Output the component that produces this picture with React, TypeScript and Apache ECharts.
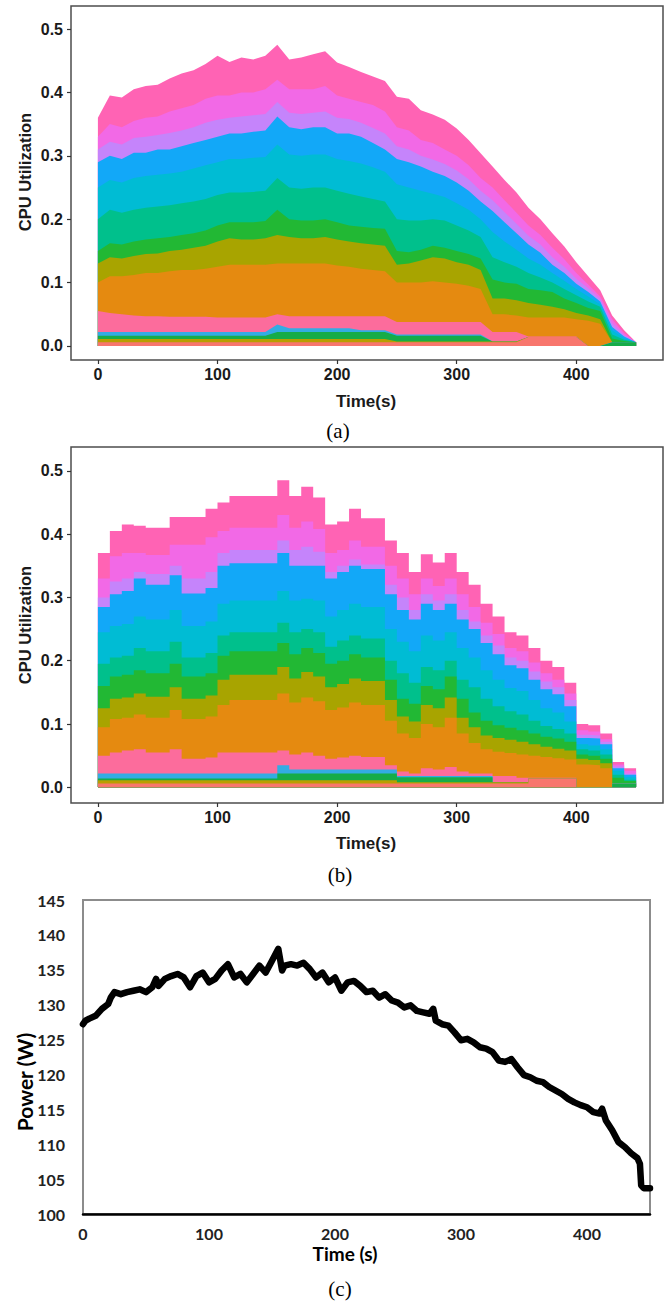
import React, { useEffect, useRef } from "react";
import * as echarts from "echarts";

// ---------- time grid (s) ----------
const T = [
  0, 10, 20, 30, 40, 50, 60, 70, 80, 90,
  100, 110, 120, 130, 140, 150, 160, 170, 180, 190,
  200, 210, 220, 230, 240, 250, 260, 270, 280, 290,
  300, 310, 320, 330, 340, 350, 360, 370, 380, 390,
  400, 410, 420, 430, 440, 450,
];

// ---------- panel (a): cumulative CPU utilization boundaries (upper edge of each colour band) ----------
const aTop = [
  0.36, 0.395, 0.392, 0.405, 0.41, 0.412, 0.422, 0.43, 0.435, 0.445,
  0.458, 0.448, 0.455, 0.452, 0.458, 0.475, 0.452, 0.455, 0.46, 0.465,
  0.447, 0.44, 0.432, 0.425, 0.418, 0.393, 0.39, 0.372, 0.365, 0.357,
  0.343, 0.325, 0.304, 0.283, 0.262, 0.242, 0.218, 0.2, 0.178, 0.157,
  0.132, 0.11, 0.088, 0.048, 0.025, 0.006,
];
const aMagenta = [
  0.33, 0.35, 0.345, 0.355, 0.36, 0.362, 0.37, 0.375, 0.38, 0.39,
  0.395, 0.395, 0.4, 0.4, 0.405, 0.42, 0.405, 0.405, 0.405, 0.41,
  0.395, 0.39, 0.385, 0.38, 0.37, 0.345, 0.34, 0.325, 0.32, 0.31,
  0.3, 0.285, 0.265, 0.25, 0.23, 0.21, 0.19, 0.175, 0.155, 0.137,
  0.115, 0.097, 0.078, 0.042, 0.02, 0.006,
];
const aViolet = [
  0.31, 0.322, 0.318, 0.328, 0.33, 0.333, 0.336, 0.34, 0.345, 0.352,
  0.357, 0.36, 0.362, 0.364, 0.366, 0.385, 0.368, 0.366, 0.368, 0.37,
  0.36, 0.358, 0.352, 0.344, 0.335, 0.315, 0.31, 0.3, 0.294, 0.287,
  0.277, 0.263, 0.245, 0.23, 0.211, 0.193, 0.174, 0.16, 0.14, 0.125,
  0.106, 0.091, 0.074, 0.036, 0.017, 0.006,
];
const aBlue = [
  0.29, 0.3, 0.295, 0.305, 0.305, 0.31, 0.31, 0.315, 0.32, 0.325,
  0.33, 0.335, 0.335, 0.338, 0.34, 0.362, 0.345, 0.342, 0.345, 0.345,
  0.335, 0.335, 0.33, 0.32, 0.31, 0.295, 0.29, 0.283, 0.275, 0.268,
  0.258, 0.245, 0.228, 0.213, 0.195, 0.178, 0.16, 0.147, 0.128, 0.115,
  0.098, 0.085, 0.07, 0.03, 0.015, 0.006,
];
const aCyan = [
  0.25, 0.262, 0.258, 0.265, 0.268, 0.27, 0.272, 0.275, 0.28, 0.285,
  0.29, 0.295, 0.295, 0.297, 0.298, 0.318, 0.302, 0.3, 0.302, 0.302,
  0.295, 0.292, 0.288, 0.282, 0.275, 0.255, 0.25, 0.245, 0.24, 0.235,
  0.225, 0.215, 0.2, 0.18, 0.165, 0.152, 0.138, 0.128, 0.115, 0.103,
  0.09, 0.078, 0.066, 0.025, 0.012, 0.006,
];
const aTeal = [
  0.2, 0.215, 0.21, 0.215, 0.218, 0.22, 0.222, 0.225, 0.228, 0.232,
  0.238, 0.242, 0.242, 0.243, 0.245, 0.265, 0.25, 0.248, 0.25, 0.25,
  0.245, 0.24, 0.236, 0.232, 0.228, 0.2, 0.198, 0.198, 0.2, 0.198,
  0.19, 0.182, 0.172, 0.14, 0.132, 0.125, 0.115, 0.108, 0.1, 0.09,
  0.08, 0.07, 0.062, 0.018, 0.01, 0.006,
];
const aGreen = [
  0.15, 0.162, 0.16, 0.165, 0.168, 0.17, 0.172, 0.175, 0.178, 0.182,
  0.19, 0.195, 0.195, 0.195, 0.197, 0.215, 0.2, 0.198, 0.198, 0.2,
  0.195, 0.19, 0.188, 0.186, 0.185, 0.15, 0.148, 0.152, 0.158, 0.155,
  0.15, 0.145, 0.138, 0.105, 0.1, 0.098, 0.09, 0.088, 0.085, 0.075,
  0.068, 0.06, 0.055, 0.012, 0.008, 0.006,
];
const aGold = [
  0.13, 0.14, 0.138, 0.142, 0.145, 0.146, 0.15, 0.152, 0.155, 0.158,
  0.165, 0.17, 0.168, 0.168, 0.17, 0.175, 0.172, 0.17, 0.17, 0.172,
  0.168, 0.165, 0.162, 0.16, 0.158, 0.128, 0.13, 0.135, 0.14, 0.138,
  0.132, 0.128, 0.12, 0.075, 0.075, 0.072, 0.068, 0.065, 0.062, 0.058,
  0.052, 0.048, 0.042, 0.006, 0.006, 0.006,
];
const aOrange = [
  0.1, 0.11, 0.11, 0.112, 0.115, 0.115, 0.118, 0.12, 0.12, 0.122,
  0.125, 0.128, 0.128, 0.128, 0.128, 0.13, 0.13, 0.13, 0.13, 0.13,
  0.127, 0.125, 0.122, 0.12, 0.118, 0.1, 0.1, 0.1, 0.102, 0.1,
  0.098, 0.095, 0.09, 0.05, 0.05, 0.048, 0.045, 0.045, 0.045, 0.045,
  0.042, 0.04, 0.035, 0.006, 0.006, 0.006,
];
const aPinkLow = [
  0.055, 0.052, 0.05, 0.048, 0.047, 0.047, 0.046, 0.046, 0.046, 0.046,
  0.045, 0.045, 0.045, 0.045, 0.045, 0.05, 0.047, 0.047, 0.047, 0.047,
  0.047, 0.047, 0.047, 0.047, 0.047, 0.038, 0.038, 0.038, 0.038, 0.038,
  0.038, 0.038, 0.038, 0.022, 0.022, 0.022, 0.015, 0.015, 0.015, 0.015,
  0.015, 0, 0, 0.006, 0.006, 0.006,
];
const aBlueThin = [
  0.022, 0.022, 0.022, 0.022, 0.022, 0.022, 0.022, 0.022, 0.022, 0.022,
  0.022, 0.022, 0.022, 0.022, 0.022, 0.034, 0.028, 0.028, 0.028, 0.028,
  0.028, 0.028, 0.025, 0.025, 0.025, 0.018, 0.018, 0.018, 0.018, 0.018,
  0.018, 0.018, 0.018, 0.007, 0.007, 0.007, 0.014, 0.014, 0.014, 0.014,
  0.014, 0, 0, 0.006, 0.006, 0.006,
];
const aGreenThin = [
  0.016, 0.016, 0.016, 0.016, 0.016, 0.016, 0.016, 0.016, 0.016, 0.016,
  0.016, 0.016, 0.016, 0.016, 0.016, 0.022, 0.022, 0.022, 0.022, 0.022,
  0.022, 0.022, 0.022, 0.022, 0.022, 0.016, 0.016, 0.016, 0.016, 0.016,
  0.016, 0.016, 0.016, 0.007, 0.007, 0.007, 0.014, 0.014, 0.014, 0.014,
  0.014, 0, 0, 0.006, 0.006, 0.006,
];
const aOlive = [
  0.011, 0.011, 0.011, 0.011, 0.011, 0.011, 0.011, 0.011, 0.011, 0.011,
  0.011, 0.011, 0.011, 0.011, 0.011, 0.011, 0.011, 0.011, 0.011, 0.011,
  0.011, 0.011, 0.011, 0.011, 0.011, 0.007, 0.007, 0.007, 0.007, 0.007,
  0.007, 0.007, 0.007, 0.007, 0.007, 0.007, 0.014, 0.014, 0.014, 0.014,
  0.014, 0, 0, 0, 0, 0,
];
const aSalmon = [
  0.006, 0.006, 0.006, 0.006, 0.006, 0.006, 0.006, 0.006, 0.006, 0.006,
  0.006, 0.006, 0.006, 0.006, 0.006, 0.006, 0.006, 0.006, 0.006, 0.006,
  0.006, 0.006, 0.006, 0.006, 0.006, 0.006, 0.006, 0.006, 0.006, 0.006,
  0.006, 0.006, 0.006, 0.006, 0.006, 0.006, 0.014, 0.014, 0.014, 0.014,
  0.014, 0, 0, 0, 0, 0,
];

// ---------- panel (b): same layers, step-wise sampling ----------
const bTop = [
  0.37, 0.405, 0.415, 0.413, 0.41, 0.41, 0.427, 0.427, 0.427, 0.44,
  0.45, 0.46, 0.46, 0.46, 0.46, 0.485, 0.46, 0.475, 0.458, 0.415,
  0.42, 0.44, 0.425, 0.425, 0.39, 0.37, 0.34, 0.368, 0.355, 0.37,
  0.34, 0.32, 0.29, 0.27, 0.245, 0.24, 0.22, 0.2, 0.19, 0.165,
  0.1, 0.098, 0.085, 0.04, 0.03, 0.006,
];
const bMagenta = [
  0.33, 0.365, 0.37, 0.37, 0.367, 0.367, 0.383, 0.383, 0.383, 0.395,
  0.405, 0.41, 0.41, 0.41, 0.41, 0.43, 0.41, 0.42, 0.408, 0.37,
  0.375, 0.39, 0.38, 0.38, 0.35, 0.33, 0.305, 0.33, 0.318, 0.33,
  0.305, 0.285, 0.26, 0.242, 0.22, 0.215, 0.197, 0.18, 0.17, 0.148,
  0.09, 0.088, 0.076, 0.036, 0.026, 0.006,
];
const bViolet = [
  0.3, 0.325, 0.33, 0.34, 0.337, 0.337, 0.35, 0.33, 0.33, 0.34,
  0.37, 0.375, 0.375, 0.375, 0.375, 0.39, 0.375, 0.38, 0.372, 0.34,
  0.35, 0.36, 0.352, 0.352, 0.32, 0.3, 0.28, 0.305, 0.295, 0.305,
  0.28, 0.262, 0.24, 0.224, 0.205, 0.2, 0.183, 0.167, 0.158, 0.138,
  0.083, 0.082, 0.072, 0.033, 0.022, 0.006,
];
const bBlue = [
  0.285, 0.305, 0.31, 0.33, 0.32, 0.32, 0.335, 0.306, 0.306, 0.315,
  0.35, 0.354, 0.354, 0.354, 0.354, 0.37, 0.35, 0.35, 0.35, 0.33,
  0.34, 0.35, 0.345, 0.345, 0.305, 0.28, 0.265, 0.29, 0.28, 0.29,
  0.265, 0.25, 0.228, 0.21, 0.193, 0.188, 0.17, 0.155, 0.147, 0.128,
  0.078, 0.077, 0.068, 0.03, 0.02, 0.006,
];
const bCyan = [
  0.245, 0.255, 0.258, 0.27, 0.265, 0.265, 0.28, 0.255, 0.255, 0.262,
  0.29, 0.295, 0.295, 0.295, 0.295, 0.31, 0.295, 0.298, 0.295, 0.27,
  0.28, 0.29, 0.285, 0.285, 0.25, 0.23, 0.215, 0.24, 0.232, 0.245,
  0.22, 0.205, 0.185, 0.17, 0.157, 0.152, 0.138, 0.125, 0.118, 0.104,
  0.068, 0.066, 0.06, 0.026, 0.016, 0.006,
];
const bTeal = [
  0.195, 0.205, 0.208, 0.22, 0.215, 0.215, 0.23, 0.205, 0.205, 0.212,
  0.24, 0.245, 0.245, 0.245, 0.245, 0.26, 0.245, 0.25, 0.245, 0.222,
  0.232, 0.24, 0.235, 0.235, 0.2, 0.18, 0.165, 0.19, 0.185, 0.2,
  0.17, 0.158, 0.14, 0.128, 0.12, 0.115, 0.105, 0.097, 0.092, 0.085,
  0.06, 0.058, 0.052, 0.02, 0.012, 0.006,
];
const bGreen = [
  0.16, 0.175, 0.178, 0.185, 0.18, 0.18, 0.195, 0.175, 0.175, 0.18,
  0.208, 0.215, 0.215, 0.215, 0.215, 0.228, 0.21, 0.22, 0.212, 0.195,
  0.2, 0.21, 0.205, 0.205, 0.17, 0.14, 0.132, 0.16, 0.155, 0.175,
  0.14, 0.118, 0.105, 0.098, 0.094, 0.09, 0.085, 0.08, 0.077, 0.072,
  0.052, 0.05, 0.045, 0.015, 0.01, 0.006,
];
const bGold = [
  0.125, 0.14, 0.142, 0.148, 0.143, 0.143, 0.158, 0.14, 0.14, 0.145,
  0.17, 0.178, 0.178, 0.178, 0.178, 0.19, 0.172, 0.182, 0.175, 0.158,
  0.163, 0.172, 0.168, 0.168, 0.138, 0.112, 0.104, 0.13, 0.125, 0.142,
  0.11, 0.095, 0.082, 0.078, 0.075, 0.072, 0.068, 0.064, 0.061, 0.058,
  0.045, 0.043, 0.038, 0.006, 0.006, 0.006,
];
const bOrange = [
  0.095, 0.108, 0.11, 0.115, 0.11, 0.11, 0.122, 0.108, 0.108, 0.112,
  0.13, 0.138, 0.138, 0.138, 0.138, 0.148, 0.134, 0.142, 0.136, 0.122,
  0.126, 0.134, 0.13, 0.13, 0.105, 0.085, 0.078, 0.1, 0.095, 0.11,
  0.085, 0.07, 0.06, 0.056, 0.054, 0.052, 0.05, 0.048, 0.046, 0.044,
  0.036, 0.035, 0.03, 0.006, 0.006, 0.006,
];
const bPinkLow = [
  0.05, 0.055, 0.058, 0.06, 0.055, 0.055, 0.06, 0.045, 0.045, 0.047,
  0.055, 0.055, 0.055, 0.055, 0.055, 0.058, 0.052, 0.055, 0.05, 0.045,
  0.047, 0.05, 0.048, 0.048, 0.035, 0.025, 0.022, 0.03, 0.028, 0.032,
  0.025, 0.022, 0.022, 0.018, 0.018, 0.015, 0.015, 0.015, 0.015, 0.015,
  0, 0, 0, 0.006, 0.006, 0.006,
];
const bBlueThin = [
  0.022, 0.022, 0.022, 0.022, 0.022, 0.022, 0.022, 0.022, 0.022, 0.022,
  0.022, 0.022, 0.022, 0.022, 0.022, 0.035, 0.028, 0.028, 0.028, 0.028,
  0.028, 0.028, 0.028, 0.028, 0.028, 0.018, 0.018, 0.018, 0.018, 0.018,
  0.018, 0.018, 0.018, 0.008, 0.008, 0.008, 0.014, 0.014, 0.014, 0.014,
  0, 0, 0, 0.006, 0.006, 0.006,
];
const bGreenThin = [
  0.014, 0.014, 0.014, 0.014, 0.014, 0.014, 0.014, 0.014, 0.014, 0.014,
  0.014, 0.014, 0.014, 0.014, 0.014, 0.022, 0.022, 0.022, 0.022, 0.022,
  0.022, 0.022, 0.022, 0.022, 0.022, 0.016, 0.016, 0.016, 0.016, 0.016,
  0.016, 0.016, 0.016, 0.008, 0.008, 0.008, 0.014, 0.014, 0.014, 0.014,
  0, 0, 0, 0.006, 0.006, 0.006,
];
const bOlive = [
  0.011, 0.011, 0.011, 0.011, 0.011, 0.011, 0.011, 0.011, 0.011, 0.011,
  0.011, 0.011, 0.011, 0.011, 0.011, 0.011, 0.011, 0.011, 0.011, 0.011,
  0.011, 0.011, 0.011, 0.011, 0.011, 0.008, 0.008, 0.008, 0.008, 0.008,
  0.008, 0.008, 0.008, 0.008, 0.008, 0.008, 0.014, 0.014, 0.014, 0.014,
  0, 0, 0, 0, 0, 0,
];
const bSalmon = [
  0.006, 0.006, 0.006, 0.006, 0.006, 0.006, 0.006, 0.006, 0.006, 0.006,
  0.006, 0.006, 0.006, 0.006, 0.006, 0.006, 0.006, 0.006, 0.006, 0.006,
  0.006, 0.006, 0.006, 0.006, 0.006, 0.006, 0.006, 0.006, 0.006, 0.006,
  0.006, 0.006, 0.006, 0.006, 0.006, 0.006, 0.014, 0.014, 0.014, 0.014,
  0, 0, 0, 0, 0, 0,
];

// ---------- panel (c): power ----------
const powerT = [
  0, 2, 5, 10, 15, 20, 22, 25, 30, 35,
  40, 45, 50, 55, 58, 60, 65, 70, 75, 80,
  85, 90, 95, 100, 105, 110, 115, 120, 125, 130,
  135, 140, 145, 150, 155, 158, 160, 165, 170, 175,
  180, 185, 190, 195, 200, 205, 210, 215, 220, 225,
  230, 235, 240, 245, 250, 255, 260, 265, 270, 275,
  278, 280, 285, 290, 295, 300, 305, 310, 315, 320,
  325, 330, 335, 340, 345, 350, 355, 360, 365, 370,
  375, 380, 385, 390, 395, 400, 405, 410, 412, 415,
  420, 425, 430, 435, 440, 442, 443, 445, 450,
];
const powerW = [
  127.2, 127.7, 128, 128.4, 129.4, 130.1, 131, 131.8, 131.5, 131.8,
  132, 132.2, 131.8, 132.5, 133.7, 132.7, 133.7, 134.1, 134.4, 133.9,
  132.5, 134.1, 134.6, 133.2, 133.7, 134.9, 135.8, 133.9, 134.4, 133.2,
  134.4, 135.6, 134.6, 136.3, 138, 134.9, 135.6, 135.8, 135.6, 136,
  135.1, 133.9, 134.6, 133.2, 133.9, 132, 133.2, 133.4, 132.7, 131.8,
  132, 131, 131.5, 130.6, 130.3, 129.6, 129.9, 129.1, 128.9, 128.7,
  129.4, 127.7, 127.2, 127, 126, 124.9, 125.1, 124.6, 123.9, 123.7,
  123.2, 122, 121.8, 122.2, 121, 119.9, 119.6, 119.1, 118.9, 118.2,
  117.7, 117.2, 116.5, 116, 115.6, 115.3, 114.6, 114.4, 115.1, 113.4,
  112, 110.3, 109.6, 108.7, 108, 107.2, 104.1, 103.7, 103.7,
];

// ---------- ticks ----------
const cpuTicks = [0, 0.1, 0.2, 0.3, 0.4, 0.5];
const timeTicks = [0, 100, 200, 300, 400];

// band colours, drawn from the top band down
const bandColors = [
  "#FF63B4", // pink top
  "#F269E6", // magenta
  "#C584FB", // violet
  "#12A8F8", // blue
  "#00BCD4", // cyan
  "#00C08C", // teal
  "#22B834", // green
  "#A8A400", // gold / olive
  "#E58A10", // orange
  "#FC6C9C", // low pink
  "#33ACE3", // thin blue
  "#16AC48", // thin green
  "#B99E00", // thin olive
  "#F8766D", // thin salmon
];

const aBands = [aTop, aMagenta, aViolet, aBlue, aCyan, aTeal, aGreen, aGold, aOrange, aPinkLow, aBlueThin, aGreenThin, aOlive, aSalmon];
const bBands = [bTop, bMagenta, bViolet, bBlue, bCyan, bTeal, bGreen, bGold, bOrange, bPinkLow, bBlueThin, bGreenThin, bOlive, bSalmon];

const SANS = '"Liberation Sans", Arial, sans-serif';
const EXCEL = 'Lato, "Open Sans", sans-serif';
const SERIF = '"Liberation Serif", "Times New Roman", serif';

function cpuAxes(gridIndex: number, yMin: number, yMax: number) {
  const tickStyle = { show: true, length: 4, inside: false, lineStyle: { color: "#333", width: 1.2 } };
  const labelStyle = { fontFamily: SANS, fontWeight: "bold" as const, fontSize: 16, color: "#1a1a1a" };
  return {
    x: {
      type: "value",
      gridIndex,
      min: -22.5,
      max: 472.5,
      position: "bottom",
      axisLine: { show: false, onZero: false },
      splitLine: { show: false },
      axisTick: { ...tickStyle, customValues: timeTicks },
      axisLabel: { ...labelStyle, margin: 6, customValues: timeTicks, formatter: (v: number) => String(v) },
    },
    y: {
      type: "value",
      gridIndex,
      min: yMin,
      max: yMax,
      position: "left",
      axisLine: { show: false, onZero: false },
      splitLine: { show: false },
      axisTick: { ...tickStyle, customValues: cpuTicks },
      axisLabel: { ...labelStyle, margin: 8, customValues: cpuTicks, formatter: (v: number) => v.toFixed(1) },
    },
  };
}

function bandSeries(bands: number[][], axisIndex: number, step: boolean) {
  return bands.map((arr, i) => ({
    type: "line",
    xAxisIndex: axisIndex,
    yAxisIndex: axisIndex,
    data: T.map((t, j) => [t, arr[j]]),
    symbol: "none",
    showSymbol: false,
    step: step ? "end" : false,
    lineStyle: { width: 0, opacity: 0 },
    areaStyle: { color: bandColors[i], opacity: 1 },
    silent: true,
    z: 2,
  }));
}

export default function App() {
  const ref = useRef<HTMLDivElement>(null);

  useEffect(() => {
    if (!ref.current) return;
    const chart = echarts.init(ref.current, null, { renderer: "svg" });
    const a = cpuAxes(0, -0.0221, 0.5363);
    const b = cpuAxes(1, -0.0248, 0.5376);

    const option: any = {
      animation: false,
      backgroundColor: "#ffffff",
      grid: [
        { left: 71, top: 6, width: 592, height: 354, show: true, borderColor: "#4d4d4d", borderWidth: 1.5, backgroundColor: "transparent", containLabel: false, outerBoundsMode: "none" },
        { left: 71, top: 447, width: 592, height: 356, show: true, borderColor: "#4d4d4d", borderWidth: 1.5, backgroundColor: "transparent", containLabel: false, outerBoundsMode: "none" },
        { left: 83, top: 900, width: 567, height: 314, show: true, borderColor: "#8c8c8c", borderWidth: 2, backgroundColor: "transparent", containLabel: false, outerBoundsMode: "none" },
      ],
      xAxis: [
        a.x,
        b.x,
        {
          type: "value",
          gridIndex: 2,
          min: 0,
          max: 450,
          position: "bottom",
          axisLine: { show: true, onZero: false, lineStyle: { color: "#000", width: 2.5 } },
          axisTick: { show: false },
          splitLine: { show: false },
          axisLabel: { customValues: timeTicks, fontFamily: EXCEL, fontWeight: "bold", fontSize: 16, color: "#222", margin: 11 },
        },
      ],
      yAxis: [
        a.y,
        b.y,
        {
          type: "value",
          gridIndex: 2,
          min: 100,
          max: 145,
          interval: 5,
          position: "left",
          axisLine: { show: false, onZero: false },
          axisTick: { show: false },
          splitLine: { show: false },
          axisLabel: { fontFamily: EXCEL, fontWeight: "bold", fontSize: 16, color: "#222", margin: 18 },
        },
      ],
      series: [
        ...bandSeries(aBands, 0, false),
        ...bandSeries(bBands, 1, true),
        {
          type: "line",
          xAxisIndex: 2,
          yAxisIndex: 2,
          data: powerT.map((t, i) => [t, powerW[i]]),
          symbol: "none",
          showSymbol: false,
          lineStyle: { color: "#000", width: 6.5, join: "round", cap: "round" },
          silent: true,
          z: 3,
        },
      ],
      graphic: [
        { type: "text", x: 25, y: 172, rotation: Math.PI / 2, style: { text: "CPU Utilization", font: `bold 16.5px ${SANS}`, fill: "#1a1a1a", align: "center", verticalAlign: "middle" } },
        { type: "text", x: 366, y: 401, style: { text: "Time(s)", font: `bold 17px ${SANS}`, fill: "#1a1a1a", align: "center", verticalAlign: "middle" } },
        { type: "text", x: 338, y: 431, style: { text: "(a)", font: `21px ${SERIF}`, fill: "#000", align: "center", verticalAlign: "middle" } },
        { type: "text", x: 25, y: 625, rotation: Math.PI / 2, style: { text: "CPU Utilization", font: `bold 16.5px ${SANS}`, fill: "#1a1a1a", align: "center", verticalAlign: "middle" } },
        { type: "text", x: 366, y: 843, style: { text: "Time(s)", font: `bold 17px ${SANS}`, fill: "#1a1a1a", align: "center", verticalAlign: "middle" } },
        { type: "text", x: 340, y: 875, style: { text: "(b)", font: `21px ${SERIF}`, fill: "#000", align: "center", verticalAlign: "middle" } },
        { type: "text", x: 24, y: 1082, rotation: Math.PI / 2, style: { text: "Power (W)", font: `bold 21px ${EXCEL}`, fill: "#000", align: "center", verticalAlign: "middle" } },
        { type: "text", x: 345, y: 1253, style: { text: "Time (s)", font: `bold 19px ${EXCEL}`, fill: "#000", align: "center", verticalAlign: "middle" } },
        { type: "text", x: 340, y: 1289, style: { text: "(c)", font: `21px ${SERIF}`, fill: "#000", align: "center", verticalAlign: "middle" } },
      ],
    };

    chart.setOption(option);
    return () => chart.dispose();
  }, []);

  return (
    <div
      ref={ref}
      style={{ position: "absolute", left: 0, top: 0, width: 668, height: 1301, background: "#fff" }}
    />
  );
}
